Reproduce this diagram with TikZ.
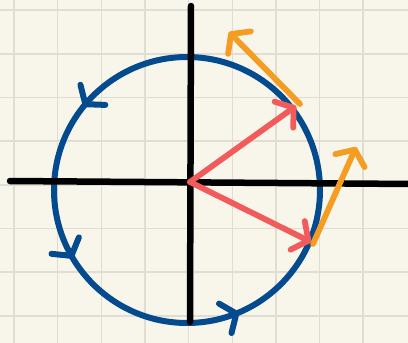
\documentclass[tikz,border=0pt]{standalone}
\usepackage{xcolor}
\usepackage{tikz}
\usetikzlibrary{arrows.meta,decorations.markings,calc}
\definecolor{fondC}{RGB}{248,246,234}
\definecolor{grilleC}{RGB}{224,222,211}
\definecolor{bleuC}{RGB}{4,74,143}
\definecolor{rougeC}{RGB}{242,91,91}
\definecolor{orangeC}{RGB}{245,156,35}
\tikzset{
  chev/.tip={Straight Barb[length=12pt, width=32pt, round]},
  grille/.style={draw=grilleC, line width=1.6pt},
  axe/.style={draw=black, line width=6.5pt, line cap=round},
  cercle/.style={draw=bleuC, line width=6pt},
  vect/.style={-chev, draw=#1, line width=5.8pt, line cap=round},
}

\begin{document}
\begin{tikzpicture}[x=1pt, y=-1pt]
        \fill[fondC] (0,0) rectangle (408,343);
        \useasboundingbox (0,0) rectangle (408,343);
        \foreach \i in {0,...,8} \draw[grille] (14+43.66*\i,0) -- (14+43.66*\i,343);
        \foreach \j in {0,...,7} \draw[grille] (0,10+43.7*\j) -- (408,10+43.7*\j);
        \coordinate (c) at (187,190);
        \coordinate (o) at (190,182);
        \coordinate (xg) at (10,181); \coordinate (xd) at (412,184);
        \coordinate (yh) at (191,6); \coordinate (yb) at (190,322);
        \coordinate (a) at (296,106); \coordinate (b) at (311,242);
        \coordinate (p) at (300,104); \coordinate (q) at (313,244);
        \coordinate (u) at (229,32); \coordinate (v) at (356,147);
        % cercle parcouru dans le sens direct
        \draw[cercle, postaction={decorate}, decoration={markings,
              mark=at position 0.392 with {\arrow{chev}},
              mark=at position 0.586 with {\arrow{chev}},
              mark=at position 0.814 with {\arrow{chev}}}]
          ($(c)+(133,0)$) arc[start angle=0, end angle=-360, radius=133];
        \draw[axe] (xg) -- (xd);
        \draw[axe] (yh) -- (yb);
        \draw[vect=orangeC] (p) -- (u); \draw[vect=orangeC] (q) -- (v);
        \draw[vect=rougeC] (o) -- (a); \draw[vect=rougeC] (o) -- (b);
      \end{tikzpicture}
\end{document}
